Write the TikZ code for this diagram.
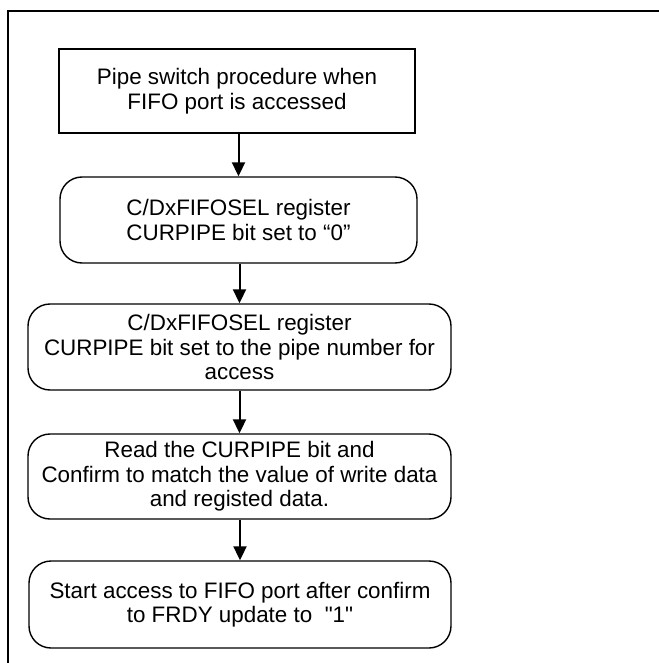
\documentclass[tikz,border=0pt]{standalone}
\usepackage{fontspec}
\setmainfont{Liberation Sans}[Ligatures=TeXOff]
\usetikzlibrary{arrows.meta}
\begin{document}
\begin{tikzpicture}[x=1pt,y=-1pt,
  every node/.style={font=\fontsize{22.4}{24.5}\selectfont, align=center, inner sep=0pt},
  stepbox/.style={draw, line width=1.4pt, minimum width=#1, minimum height=86},
  roundbox/.style={stepbox=#1, rounded corners=22},
  arr/.style={line width=2pt, -{Triangle[length=14pt,width=13pt]}},
  frame/.style={line width=2pt}]
  \useasboundingbox (0,0) rectangle (658,663);
  % open frame: top and left edges
  \draw[frame] (8,680) -- (8,11) -- (680,11);
  \node[stepbox=356, minimum height=84] (b1) at (237,91)
    {Pipe switch procedure when\\FIFO port is accessed};
  \node[roundbox=357] (b2) at (238.5,220)
    {C/DxFIFOSEL register\\CURPIPE bit set to “0”};
  \node[roundbox=423] (b3) at (239.5,347)
    {C/DxFIFOSEL register\\CURPIPE bit set to the pipe number for\\access};
  \node[roundbox=423, minimum height=85] (b4) at (239.5,476.5)
    {Read the CURPIPE bit and\\Confirm to match the value of write data\\and registed data.};
  \node[roundbox=422, minimum height=87] (b5) at (240,604.5)
    {Start access to FIFO port after confirm\\to FRDY update to\ \ "1"};
  \draw[arr] (b1.south -| b2.north) -- (b2.north);
  \draw[arr] (b2.south -| b3.north) -- (b3.north);
  \draw[arr] (b3.south) -- (b4.north);
  \draw[arr] (b4.south -| b5.north) -- (b5.north);
\end{tikzpicture}
\end{document}
